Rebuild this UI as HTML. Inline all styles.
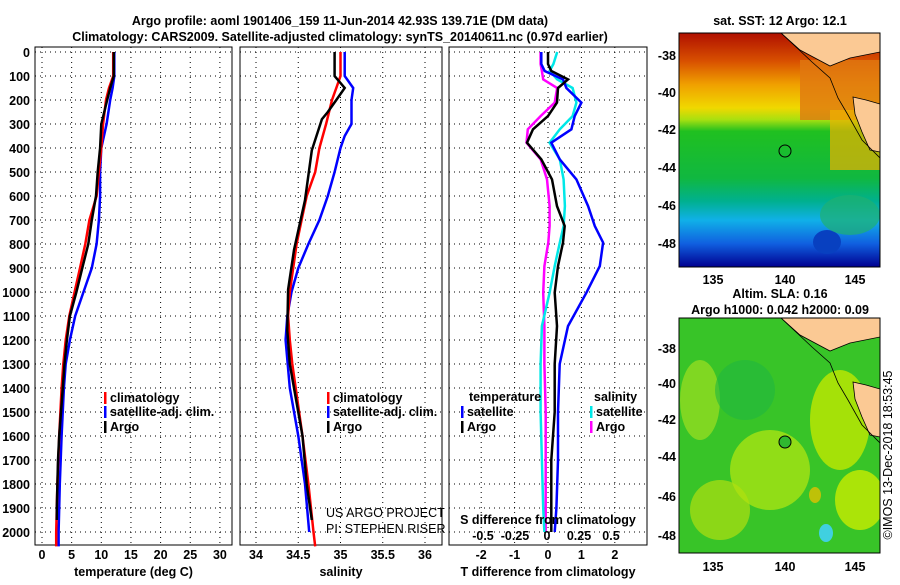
<!DOCTYPE html>
<html><head><meta charset="utf-8">
<style>
body{margin:0;background:#fff;width:900px;height:580px;overflow:hidden}
svg text{font-family:"Liberation Sans",sans-serif;font-weight:bold;font-size:12.5px;fill:#000}
</style></head>
<body>
<svg id="c" width="900" height="580" viewBox="0 0 900 580" xmlns="http://www.w3.org/2000/svg">
<defs>
<linearGradient id="sst" x1="0" y1="0" x2="0" y2="1">
<stop offset="0" stop-color="#b01000"/><stop offset="0.12" stop-color="#d85000"/>
<stop offset="0.22" stop-color="#f0a000"/><stop offset="0.32" stop-color="#f0d800"/>
<stop offset="0.37" stop-color="#a8e010"/><stop offset="0.42" stop-color="#20c020"/>
<stop offset="0.62" stop-color="#10b840"/><stop offset="0.72" stop-color="#00b090"/>
<stop offset="0.8" stop-color="#10b0e8"/><stop offset="0.9" stop-color="#1060e0"/>
<stop offset="1" stop-color="#000090"/></linearGradient>
<clipPath id="m1"><rect x="679" y="33" width="201" height="234"/></clipPath>
<clipPath id="m2"><rect x="679" y="318" width="201" height="235"/></clipPath>
</defs>
<text x="340" y="25" text-anchor="middle" font-size="13.5">Argo profile: aoml 1901406_159 11-Jun-2014 42.93S 139.71E (DM data)</text>
<text x="340" y="41" text-anchor="middle" font-size="13.5">Climatology: CARS2009. Satellite-adjusted climatology: synTS_20140611.nc (0.97d earlier)</text>
<g id="plots"></g>
<g>
<g clip-path="url(#m1)">
<rect x="679" y="33" width="201" height="234" fill="url(#sst)"/>
<rect x="800" y="60" width="80" height="60" fill="#e07810" opacity="0.8"/>
<rect x="830" y="110" width="50" height="60" fill="#f0b000" opacity="0.7"/>
<ellipse cx="827" cy="242" rx="14" ry="12" fill="#0840c0"/>
<ellipse cx="850" cy="215" rx="30" ry="20" fill="#20b070" opacity="0.7"/>
<polygon points="781,33 800,50 830,66 850,58 880,52 880,33" fill="#fbc994" stroke="#000" stroke-width="0.8"/>
<polygon points="853,97 866,100 880,104 880,152 870,150 862,132 855,114" fill="#fbc994" stroke="#000" stroke-width="0.8"/>
<polyline points="781,33 812,62 830,78 838,98 848,115 862,140 880,158" fill="none" stroke="#000" stroke-width="0.8"/>
<circle cx="785" cy="151" r="6" fill="none" stroke="#000"/>
</g>
<rect x="679" y="33" width="201" height="234" fill="none" stroke="#000"/>
</g>
<g>
<g clip-path="url(#m2)">
<rect x="679" y="318" width="201" height="235" fill="#38c428"/>
<ellipse cx="700" cy="400" rx="20" ry="40" fill="#a0e020" opacity="0.7"/>
<ellipse cx="770" cy="470" rx="40" ry="40" fill="#b8e810" opacity="0.7"/>
<ellipse cx="840" cy="420" rx="30" ry="50" fill="#c0e800" opacity="0.8"/>
<ellipse cx="720" cy="510" rx="30" ry="30" fill="#b0e010" opacity="0.7"/>
<ellipse cx="860" cy="500" rx="25" ry="30" fill="#c8ec00" opacity="0.8"/>
<ellipse cx="815" cy="495" rx="6" ry="8" fill="#e0c000" opacity="0.8"/>
<ellipse cx="826" cy="533" rx="7" ry="9" fill="#40d0e0"/>
<ellipse cx="745" cy="390" rx="30" ry="30" fill="#20b840" opacity="0.6"/>
<polygon points="781,318 800,335 830,351 850,343 880,337 880,318" fill="#fbc994" stroke="#000" stroke-width="0.8"/>
<polygon points="853,382 866,385 880,389 880,437 870,435 862,417 855,399" fill="#fbc994" stroke="#000" stroke-width="0.8"/>
<polyline points="781,318 812,347 830,363 838,383 848,400 862,425 880,443" fill="none" stroke="#000" stroke-width="0.8"/>
<circle cx="785" cy="442" r="6" fill="#30b830" stroke="#000"/>
</g>
<rect x="679" y="318" width="201" height="235" fill="none" stroke="#000"/>
</g>
<text x="780" y="25" text-anchor="middle">sat. SST: 12 Argo: 12.1</text>
<text x="780" y="298" text-anchor="middle">Altim. SLA: 0.16</text>
<text x="780" y="314" text-anchor="middle">Argo h1000: 0.042 h2000: 0.09</text>
<text transform="translate(892,455) rotate(-90)" text-anchor="middle" style="font-weight:normal">©IMOS 13-Dec-2018 18:53:45</text>
</svg>
<script>
// depth axis data
const depthTicks=[0,100,200,300,400,500,600,700,800,900,1000,1100,1200,1300,1400,1500,1600,1700,1800,1900,2000];
// temperature panel
const tempTicks=[0,5,10,15,20,25,30];
const tDepth=[0,100,150,200,300,400,500,600,700,800,900,1000,1100,1200,1300,1400,1500,1600,1700,1800,1900,1950];
const tArgo=[12.1,12.1,11.5,11.0,10.0,9.8,9.4,9.1,8.4,7.8,6.8,5.8,4.7,4.2,3.8,3.5,3.2,2.9,2.7,2.6,2.5,2.5];
const cDepth=[0,100,150,200,300,400,500,600,700,800,900,1000,1100,1200,1300,1400,1600,1800,2000,2060];
const tClim=[12.0,12.0,11.3,10.8,10.3,10.0,9.6,9.2,8.0,7.3,6.4,5.5,4.6,4.0,3.6,3.3,2.9,2.6,2.4,2.4];
const tSat=[12.2,12.2,11.9,11.5,10.9,10.0,9.8,9.8,9.6,9.2,8.4,7.0,5.6,4.7,4.0,3.7,3.3,3.0,2.8,2.8];
// salinity panel
const salTicks=[34,34.5,35,35.5,36];
const sArgoDepth=[0,100,150,200,250,280,410,617,825,990,1160,1300,1400,1600,1800,1950];
const sArgo=[34.93,34.93,35.05,34.95,34.85,34.78,34.66,34.58,34.45,34.38,34.37,34.4,34.45,34.55,34.6,34.66];
const sClim=[35.0,35.0,34.95,34.9,34.83,34.75,34.7,34.6,34.54,34.48,34.44,34.4,34.38,34.4,34.43,34.47,34.55,34.62,34.68,34.7];
const sSatDepth=[0,100,150,200,300,350,400,500,600,700,800,900,1000,1100,1200,1400,1600,1800,2000];
const sSat=[35.05,35.05,35.15,35.13,35.13,35.05,35.0,34.93,34.85,34.75,34.62,34.5,34.42,34.37,34.35,34.4,34.5,34.58,34.63];
// difference panel
const tdTicks=[-2,-1,0,1,2];
const sdTicks=[-0.5,-0.25,0,0.25,0.5];
const sdTickLabels=["-0.5","-0.25","0","0.25","0.5"];
const dDepth=[0,50,79,114,150,211,267,322,378,447,531,642,725,794,892,1003,1142,1300,1500,1700,1900,2000];
const dTArgo=[0,0,0.1,0.6,0.3,0.27,0,-0.45,-0.63,-0.2,0.12,0.27,0.5,0.45,0.3,0.2,0.27,0.2,0.2,0.1,0.1,0.1];
const dTSat=[-0.2,-0.2,-0.1,0.45,0.55,1.0,0.8,0.7,0.1,0.35,0.85,1.2,1.4,1.65,1.55,1.15,0.6,0.35,0.3,0.3,0.25,0.2];
const dSSat=[0.08,0.05,0.02,0.08,0.2,0.23,0.2,0.1,0.02,0.1,0.13,0.14,0.13,0.1,0.06,0.02,-0.04,-0.05,-0.05,-0.04,-0.03,-0.02];
const dSArgo=[-0.05,-0.05,-0.04,-0.03,0.08,0.06,-0.05,-0.15,-0.16,-0.05,0,0.02,0.02,0.01,-0.02,-0.03,-0.02,-0.02,-0.01,-0.01,-0.01,-0.01];

const NS="http://www.w3.org/2000/svg";
const G=document.getElementById('plots');
const yD=d=>52+0.24*d;
const pTop=47,pBot=545;
function el(t,a,p){const e=document.createElementNS(NS,t);for(const k in a)e.setAttribute(k,a[k]);(p||G).appendChild(e);return e;}
function panel(name,x0,x1,xs,ticks,labels,xlabel){
  const g=el('g',{});
  
  
  for(const d of depthTicks){const l=el('line',{x1:x0,x2:x1,y1:yD(d),y2:yD(d),stroke:'#000','stroke-dasharray':'1,4','stroke-width':1},g);
    
    }
  ticks.forEach((t,i)=>{const x=xs(t);
    const l=el('line',{x1:x,x2:x,y1:pTop,y2:pBot,stroke:'#000','stroke-dasharray':'1,4','stroke-width':1},g);
    
    
    const tx=el('text',{x:x,y:559,'text-anchor':'middle'},g);tx.textContent=labels[i];
    
    });
  const r=el('rect',{x:x0,y:pTop,width:x1-x0,height:pBot-pTop,fill:'none',stroke:'#000'},g);
  
  
  const xl=el('text',{x:(x0+x1)/2,y:576,'text-anchor':'middle'},g);xl.textContent=xlabel;
  
  
  return g;
}
function line(g,name,depths,vals,xs,col){
  const pts=depths.map((d,i)=>xs(vals[i]).toFixed(1)+','+yD(d).toFixed(1)).join(' ');
  const p=el('polyline',{points:pts,fill:'none',stroke:col,'stroke-width':2.5},g);
  
  
}
function txt(g,x,y,s,name,extra){const t=el('text',Object.assign({x:x,y:y},extra||{}),g);t.textContent=s;
  
  return t;}
function leg(g,x,y,col,s){el('rect',{x:x,y:y-10,width:2.5,height:12,fill:col},g);txt(g,x+6,y,s,'legend-entry');}

// temperature
const xT=v=>42+v*5.93;
const g1=panel('temperature-panel',35,232,xT,tempTicks,tempTicks.map(String),'temperature (deg C)');
depthTicks.forEach(d=>{txt(G,30,yD(d)+5,String(d),'y-tick-label',{'text-anchor':'end'});});
line(g1,'temp-satellite-line',cDepth,tSat,xT,'#0000ff');
line(g1,'temp-climatology-line',cDepth,tClim,xT,'#ff0000');
line(g1,'temp-argo-line',tDepth,tArgo,xT,'#000');
leg(g1,104,402,'#f00','climatology');leg(g1,104,416,'#00f','satellite-adj. clim.');leg(g1,104,431,'#000','Argo');

// salinity
const xS=v=>256+(v-34)*84.5;
const g2=panel('salinity-panel',240,442,xS,salTicks,salTicks.map(String),'salinity');
line(g2,'sal-satellite-line',sSatDepth,sSat,xS,'#0000ff');
line(g2,'sal-climatology-line',cDepth,sClim,xS,'#ff0000');
line(g2,'sal-argo-line',sArgoDepth,sArgo,xS,'#000');
leg(g2,327,402,'#f00','climatology');leg(g2,327,416,'#00f','satellite-adj. clim.');leg(g2,327,431,'#000','Argo');
const u1=txt(g2,326,517,'US ARGO PROJECT','credit-project');u1.setAttribute('style','font-weight:normal');
const u2=txt(g2,326,533,'PI: STEPHEN RISER','credit-pi');u2.setAttribute('style','font-weight:normal');

// difference
const xTd=v=>548+v*33.4;
const xSd=v=>547+v*128;
const g3=panel('difference-panel',449,647,xTd,tdTicks,tdTicks.map(String),'T difference from climatology');
line(g3,'sdiff-argo-line',dDepth,dSArgo,xSd,'#ff00ff');
line(g3,'sdiff-satellite-line',dDepth,dSSat,xSd,'#00e8e8');
line(g3,'tdiff-satellite-line',dDepth,dTSat,xTd,'#0000ff');
line(g3,'tdiff-argo-line',dDepth,dTArgo,xTd,'#000');
txt(g3,469,401,'temperature','legend-header');txt(g3,594,401,'salinity','legend-header');
leg(g3,461,416,'#00f','satellite');leg(g3,461,431,'#000','Argo');
leg(g3,590,416,'#00e8e8','satellite');leg(g3,590,431,'#f0f','Argo');
txt(g3,548,524,'S difference from climatology','s-axis-title',{'text-anchor':'middle'});
sdTicks.forEach((v,i)=>txt(g3,xSd(v),540,sdTickLabels[i],'s-tick-label',{'text-anchor':'middle'}));

// map axes
const latT=[-38,-40,-42,-44,-46,-48];
const lat1=[56,93,130,168,206,244],lat2=[349,384,420,457,497,536];
const lonT=[135,140,145],lonX=[713,785,855];
latT.forEach((v,i)=>{txt(G,676,lat1[i]+4,String(v),'map-lat-label',{'text-anchor':'end'});
  txt(G,676,lat2[i]+4,String(v),'map-lat-label',{'text-anchor':'end'});
  el('line',{x1:876,x2:880,y1:lat1[i],y2:lat1[i],stroke:'#000'});el('line',{x1:876,x2:880,y1:lat2[i],y2:lat2[i],stroke:'#000'});});
lonT.forEach((v,i)=>{txt(G,lonX[i],284,String(v),'map-lon-label',{'text-anchor':'middle'});
  txt(G,lonX[i],571,String(v),'map-lon-label',{'text-anchor':'middle'});});
</script>
</body></html>
